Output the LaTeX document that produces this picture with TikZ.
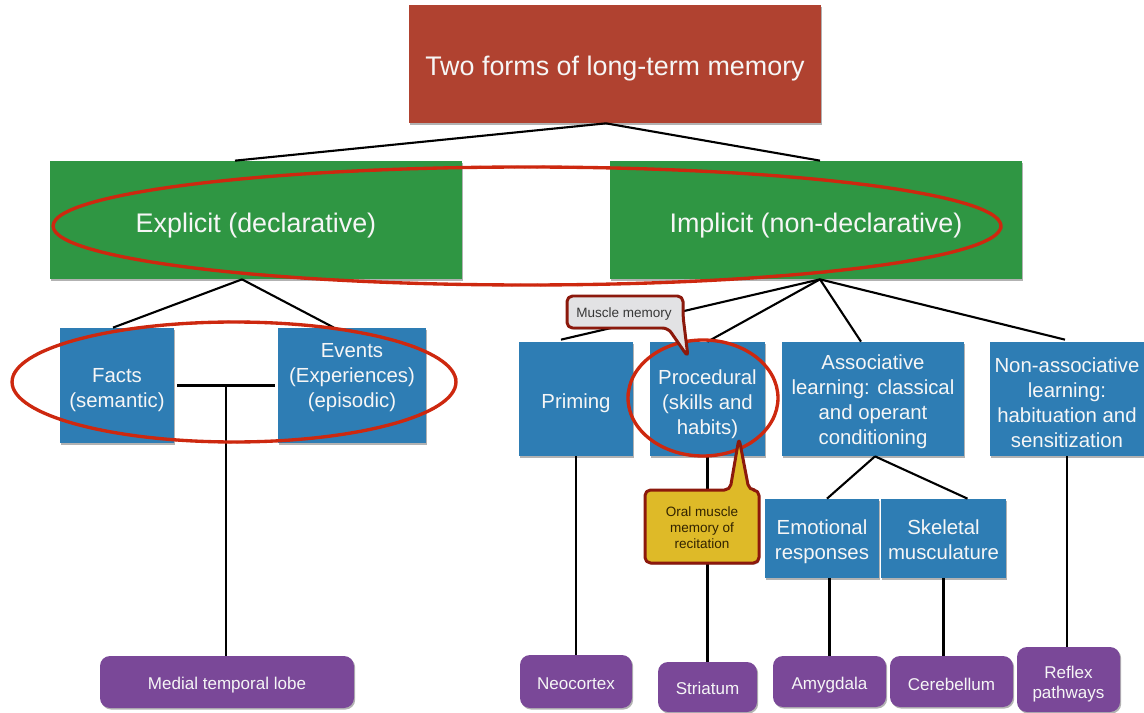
\documentclass[tikz,border=0pt]{standalone}
\usepackage{fontspec}
\setmainfont{Liberation Sans}
\usetikzlibrary{calc,shadows,decorations.pathmorphing}
\definecolor{titlered}{RGB}{176,66,48}
\definecolor{boxgreen}{RGB}{47,150,67}
\definecolor{boxblue}{RGB}{46,125,180}
\definecolor{boxpurple}{RGB}{122,72,152}
\definecolor{callyellow}{RGB}{222,186,40}
\definecolor{callborder}{RGB}{140,25,12}
\definecolor{callgrayfill}{RGB}{226,226,228}
\definecolor{redmark}{RGB}{205,40,15}
\definecolor{boxtext}{RGB}{246,246,246}
\tikzset{
  wh/.style 2 args={minimum width=#1*0.02cm, minimum height=#2*0.02cm},
  shade box/.style={drop shadow={shadow xshift=0.7pt, shadow yshift=-0.9pt, opacity=0.3, fill=black}},
  basebox/.style={inner sep=0pt, shade box},
  titlebox/.style={basebox, fill=titlered},
  greenbox/.style={basebox, fill=boxgreen},
  bluebox/.style={basebox, fill=boxblue},
  purplebox/.style={basebox, fill=boxpurple, rounded corners=0.2cm},
  labeltext/.style={inner sep=0pt, text=boxtext, align=center},
  bigtext/.style={labeltext, font=\fontsize{15.3}{18}\selectfont},
  bluetext/.style={labeltext, font=\fontsize{11.6}{14.2}\selectfont},
  purpletext/.style={labeltext, font=\fontsize{9.7}{11.4}\selectfont},
  conn/.style={draw=black, line width=1.2pt},
  ring/.style={draw=redmark, line width=1.9pt},
  ringrough/.style={draw=redmark, line width=0.7pt, decorate, decoration={random steps, segment length=1.5pt, amplitude=0.5pt}},
  callshape/.style={draw=callborder, line width=0.06cm, rounded corners=0.11cm, line join=round,
     drop shadow={shadow xshift=0.7pt, shadow yshift=-0.9pt, opacity=0.3, fill=black}},
  calltext/.style={inner sep=0pt, align=center, font=\fontsize{7.7}{9.1}\selectfont},
}
\begin{document}
\begin{tikzpicture}[x=0.02cm, y=-0.02cm]
\useasboundingbox (0,0) rectangle (1144,713);

% boxes
\node[titlebox, wh={412}{118}] (title) at (615,64) {};
\node[greenbox, wh={412}{118}] (explicit) at (256,220) {};
\node[greenbox, wh={412}{118}] (implicit) at (816,220) {};

\node[bluebox, wh={114}{115}] (facts) at (117,385.5) {};
\node[bluebox, wh={148}{115}] (events) at (352,385.5) {};
\node[bluebox, wh={114}{114}] (priming) at (576,399) {};
\node[bluebox, wh={115}{114}] (procedural) at (707.5,399) {};
\node[bluebox, wh={182}{114}] (associative) at (873,399) {};
\node[bluebox, wh={154}{114}] (nonassoc) at (1067,399) {};
\node[bluebox, wh={114}{79}] (emotional) at (822,538.5) {};
\node[bluebox, wh={125}{79}] (skeletal) at (943.5,538.5) {};

\node[purplebox, wh={254}{52}] (medial) at (227,682) {};
\node[purplebox, wh={112}{53}] (neocortex) at (576,681.5) {};
\node[purplebox, wh={99}{50}] (striatum) at (707.5,687) {};
\node[purplebox, wh={113}{51}] (amygdala) at (829.5,681.5) {};
\node[purplebox, wh={123}{51}] (cerebellum) at (951.5,681.5) {};
\node[purplebox, wh={103}{65}] (reflex) at (1068.5,679.5) {};

% texts
\node[bigtext] (titlet) at ($(title)+(0,5)$) {Two forms of long-term memory};
\node[bigtext] (explicitt) at ($(explicit)+(0,6)$) {Explicit (declarative)};
\node[bigtext] (implicitt) at ($(implicit)+(0,6)$) {Implicit (non-declarative)};
\node[bluetext] (factst) at ($(facts)+(0,5)$) {Facts\\(semantic)};
\node[bluetext] (eventst) at ($(events)+(0,-7.5)$) {Events\\(Experiences)\\(episodic)};
\node[bluetext] (primingt) at ($(priming)+(0,4)$) {Priming};
\node[bluetext] (proceduralt) at ($(procedural)+(0,5)$) {Procedural\\(skills and\\habits)};
\node[bluetext] (associativet) at ($(associative)+(0,3)$) {Associative\\learning: classical\\and operant\\conditioning};
\node[bluetext] (nonassoct) at ($(nonassoc)+(0,4)$) {Non-associative\\learning:\\habituation and\\sensitization};
\node[bluetext] (emotionalt) at ($(emotional)+(0,3)$) {Emotional\\responses};
\node[bluetext] (skeletalt) at ($(skeletal)+(0,1.5)$) {Skeletal\\musculature};
\node[purpletext] (medialt) at ($(medial)+(0,3)$) {Medial temporal lobe};
\node[purpletext] (neocortext) at ($(neocortex)+(0,2.5)$) {Neocortex};
\node[purpletext] (striatumt) at ($(striatum)+(0,1.5)$) {Striatum};
\node[purpletext] (amygdalat) at ($(amygdala)+(0,4)$) {Amygdala};
\node[purpletext] (cerebellumt) at ($(cerebellum)+(0,2.5)$) {Cerebellum};
\node[purpletext] (reflext) at ($(reflex)+(0,5)$) {Reflex\\pathways};

% connectors
\draw[conn] ($(title.south)+(-9,0)$) -- ($(explicit.north)+(-21,0)$);
\draw[conn] ($(title.south)+(-9,0)$) -- ($(implicit.north)+(4,0)$);

\draw[conn] ($(explicit.south)+(-14,0)$) -- ($(facts.north)+(-4,0)$);
\draw[conn] ($(explicit.south)+(-14,0)$) -- ($(events.north)+(-18,0)$);
\draw[conn] ($(facts.east)+(3,0)$) -- ($(events.west)+(-3,0)$);
\coordinate (fe) at ($(facts.east)!0.5!(events.west)$);
\draw[conn] (fe) -- (fe |- medial.north);

\draw[conn] ($(implicit.south)+(4,0)$) -- ($(priming.north)+(-15,-2)$);
\draw[conn] ($(implicit.south)+(4,0)$) -- (procedural.north);
\draw[conn] ($(implicit.south)+(4,0)$) -- ($(associative.north)+(-12,0)$);
\draw[conn] ($(implicit.south)+(4,0)$) -- ($(nonassoc.north)+(-2,-2)$);

\draw[conn] ($(associative.south)+(2,0)$) -- ($(emotional.north)+(5,0)$);
\draw[conn] ($(associative.south)+(2,0)$) -- ($(skeletal.north)+(24,0)$);

\draw[conn] (priming.south) -- (neocortex.north);
\draw[conn] (procedural.south) -- (striatum.north);
\draw[conn] (amygdala.north |- emotional.south) -- (amygdala.north);
\draw[conn] (skeletal.south) -- (skeletal.south |- cerebellum.north);
\draw[conn] (nonassoc.south) -- (nonassoc.south |- reflex.north);

% red hand-drawn rings
\draw[ring] (527,226) ellipse [x radius=9.48cm, y radius=1.18cm];
\draw[ringrough] (527,226) ellipse [x radius=9.48cm, y radius=1.18cm];
\draw[ring] (234,382) ellipse [x radius=4.44cm, y radius=1.2cm];
\draw[ringrough] (234,382) ellipse [x radius=4.44cm, y radius=1.2cm];
\draw[ring] (703,398) ellipse [x radius=1.5cm, y radius=1.16cm];
\draw[ringrough] (703,398) ellipse [x radius=1.5cm, y radius=1.16cm];

% callouts
\path[callshape, fill=callgrayfill] (567,296) -- (683,296) -- (683,316) -- (688,357) -- (668,328) -- (567,328) -- cycle;
\node[calltext, text={rgb,255:red,55;green,55;blue,55}] (muscle) at (624,314) {Muscle memory};

\path[callshape, fill=callyellow] (645,490) -- (730,490) -- (739,438) -- (749,490) -- (759,490) -- (759,563) -- (645,563) -- cycle;
\node[calltext, text={rgb,255:red,50;green,35;blue,0}] (oral) at (702,528) {Oral muscle\\memory of\\recitation};
\end{tikzpicture}
\end{document}
